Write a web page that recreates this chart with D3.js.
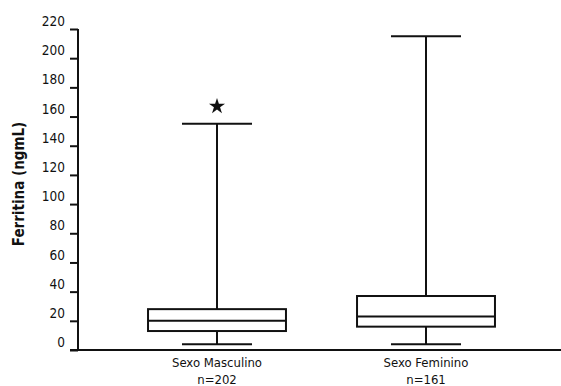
<!DOCTYPE html>
<html>
<head>
<meta charset="utf-8">
<script src="https://cdn.jsdelivr.net/npm/d3@7"></script>
<style>
  body { margin: 0; background: #fff; }
  svg { display: block; }
  text { font-family: "DejaVu Sans Condensed", "DejaVu Sans", sans-serif; fill: #111; }
</style>
</head>
<body>
<script>
// datos (ferritina, ngmL)
var grupos  = ["Sexo Masculino", "Sexo Feminino"];
var nLabels = ["n=202", "n=161"];
var minimo  = [4, 4];
var q1      = [13, 16];
var mediana = [20, 23];
var q3      = [28, 37];
var maximo  = [155, 215];
// outlier (estrella) solo en el grupo masculino
var outliers = [{grupo: "Sexo Masculino", valor: 167}];
var yTicks = [0, 20, 40, 60, 80, 100, 120, 140, 160, 180, 200, 220];

var W = 561, H = 386;
var margin = {top: 29, right: 0, bottom: 36, left: 78};

var svg = d3.select("body").append("svg")
    .attr("width", W)
    .attr("height", H);

var y = d3.scaleLinear()
    .domain([0, 220])
    .range([H - margin.bottom - 0, margin.top]);   // 0 -> 350, 220 -> 29

var x = d3.scaleBand()
    .domain(grupos)
    .range([112.5, 530.5]);

var boxW = x.bandwidth() * 0.66,
    capW = x.bandwidth() * 0.335;

// eje y
var yAxis = d3.axisLeft(y)
    .tickValues(yTicks)
    .tickSize(8)
    .tickPadding(5)
    .tickSizeOuter(0);

var gy = svg.append("g")
    .attr("transform", "translate(" + margin.left + ",0)")
    .call(yAxis);
gy.select(".domain").attr("stroke", "#111").attr("stroke-width", 2)
    .attr("d", "M0," + y(220) + "V" + y(0));
gy.selectAll(".tick line").attr("stroke", "#111").attr("stroke-width", 2);
gy.selectAll(".tick text")
    .style("font-size", "13.5px")
    .attr("dy", "-0.25em");

// eje x (linea base)
svg.append("line")
    .attr("x1", margin.left - 8)
    .attr("x2", W)
    .attr("y1", y(0))
    .attr("y2", y(0))
    .attr("stroke", "#111")
    .attr("stroke-width", 2);

// titulo eje y
svg.append("text")
    .attr("transform", "translate(24," + 184 + ") rotate(-90)")
    .attr("text-anchor", "middle")
    .style("font-size", "15px")
    .style("font-weight", "bold")
    .text("Ferritina (ngmL)");

// cajas
var datos = grupos.map(function(g, i) {
    return {grupo: g, n: nLabels[i], min: minimo[i], q1: q1[i], med: mediana[i], q3: q3[i], max: maximo[i]};
});

var box = svg.selectAll("g.box")
    .data(datos)
  .enter().append("g")
    .attr("class", "box")
    .attr("transform", function(d) { return "translate(" + (x(d.grupo) + x.bandwidth() / 2) + ",0)"; })
    .attr("stroke", "#111")
    .attr("stroke-width", 2)
    .attr("fill", "none");

// bigotes
box.append("line")
    .attr("x1", 0).attr("x2", 0)
    .attr("y1", function(d) { return y(d.max); })
    .attr("y2", function(d) { return y(d.q3); });
box.append("line")
    .attr("x1", 0).attr("x2", 0)
    .attr("y1", function(d) { return y(d.q1); })
    .attr("y2", function(d) { return y(d.min); });
box.append("line")
    .attr("x1", -capW / 2).attr("x2", capW / 2)
    .attr("y1", function(d) { return y(d.max); })
    .attr("y2", function(d) { return y(d.max); });
box.append("line")
    .attr("x1", -capW / 2).attr("x2", capW / 2)
    .attr("y1", function(d) { return y(d.min); })
    .attr("y2", function(d) { return y(d.min); });

box.append("rect")
    .attr("x", -boxW / 2)
    .attr("width", boxW)
    .attr("y", function(d) { return y(d.q3); })
    .attr("height", function(d) { return y(d.q1) - y(d.q3); })
    .attr("fill", "#fff");

box.append("line")
    .attr("x1", -boxW / 2).attr("x2", boxW / 2)
    .attr("y1", function(d) { return y(d.med); })
    .attr("y2", function(d) { return y(d.med); });

// etiquetas
box.append("text")
    .attr("stroke", "none")
    .attr("text-anchor", "middle")
    .attr("y", 367)
    .style("font-size", "13px")
    .text(function(d) { return d.grupo; });
box.append("text")
    .attr("stroke", "none")
    .attr("text-anchor", "middle")
    .attr("y", 383.5)
    .style("font-size", "13px")
    .text(function(d) { return d.n; });

// outlier
svg.selectAll("path.outlier")
    .data(outliers)
  .enter().append("path")
    .attr("class", "outlier")
    .attr("d", d3.symbol().type(d3.symbolStar).size(80))
    .attr("fill", "#111")
    .attr("transform", function(d) {
        return "translate(" + (x(d.grupo) + x.bandwidth() / 2) + "," + y(d.valor) + ")";
    });
</script>
</body>
</html>
